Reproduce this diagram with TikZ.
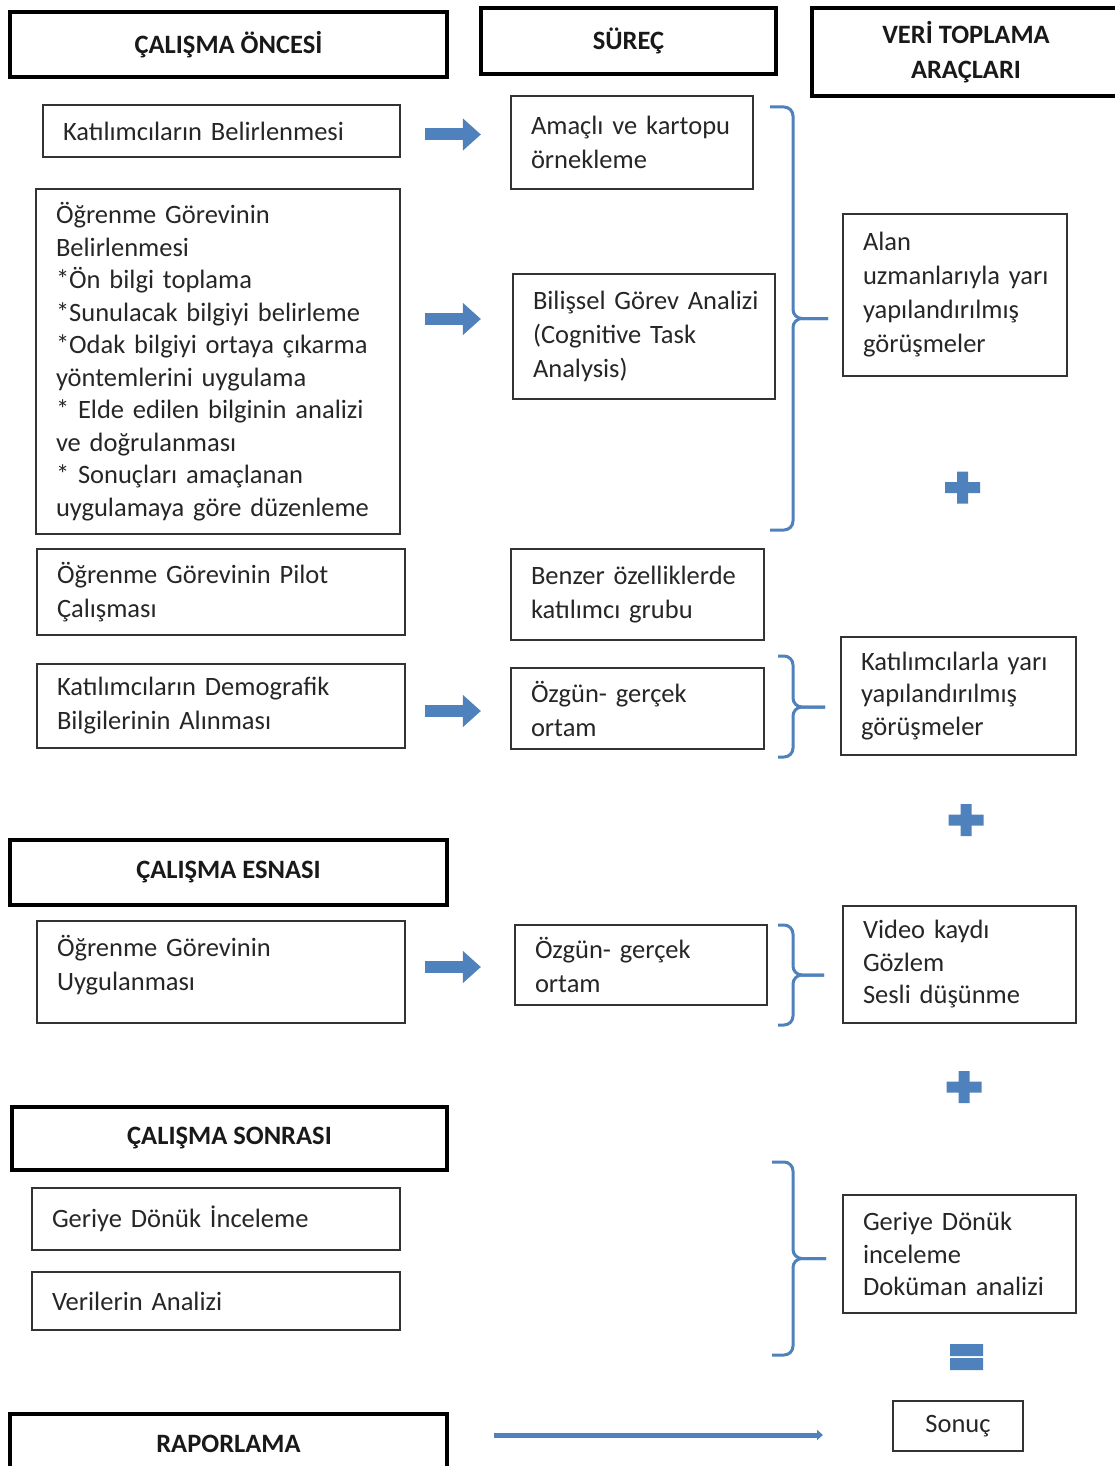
\documentclass[tikz,border=0pt]{standalone}
\usepackage{fontspec}
\setmainfont{Carlito}
\usepackage{xcolor}
\usetikzlibrary{arrows.meta,positioning}
\definecolor{ofisMavi}{HTML}{4F81BD}
\hyphenpenalty=10000

\begin{document}
\begin{tikzpicture}[x=1pt,y=-1pt,
  kutu/.style={draw=black!80,line width=1.8pt,align=left,inner xsep=20pt,
               font=\fontsize{26.5}{34}\selectfont,text=black!85},
  siki/.style={font=\fontsize{26.5}{32.5}\selectfont},
  baslik/.style={draw=black,line width=4pt,align=center,text=black!90,
                 font=\fontsize{26.5}{35}\selectfont\bfseries},
  blokok/.style={draw=ofisMavi,line width=12pt,-{Triangle[width=31pt,length=18pt]}},
  ok/.style={draw=ofisMavi,line width=5pt,-{Triangle[width=10pt,length=6pt]}},
  kavis/.style={draw=ofisMavi,line width=3pt,rounded corners=9pt},
  arti/.style={fill=ofisMavi}]
  \useasboundingbox (0,0) rectangle (1115,1466);

  % basliklar
  \node[baslik,minimum width=437pt,minimum height=65pt] (once) at (228.5,44.5) {ÇALIŞMA ÖNCESİ};
  \node[baslik,minimum width=295pt,minimum height=66pt] (surec) at (628.5,41) {SÜREÇ};
  \node[baslik,minimum width=308pt,minimum height=88pt] (arac) at (966,52) {VERİ TOPLAMA\\ARAÇLARI};
  \node[baslik,minimum width=437pt,minimum height=65pt] (esnasi) at (228.5,872.5) {ÇALIŞMA ESNASI};
  \node[baslik,minimum width=435pt,minimum height=63pt] (sonrasi) at (229.5,1138.5) {ÇALIŞMA SONRASI};
  \node[baslik,minimum width=437pt,minimum height=60pt] (rapor) at (228.5,1444) {RAPORLAMA};

  % calisma oncesi
  \node[kutu,text width=317pt,minimum height=52pt] (katil) at (221.5,131) {Katılımcıların Belirlenmesi};
  \node[kutu,siki,text width=324pt,minimum height=345pt] (gorev) at (218,361.5)
    {Öğrenme Görevinin\\Belirlenmesi\\{}*Ön bilgi toplama\\{}*Sunulacak bilgiyi belirleme\\{}*Odak bilgiyi ortaya çıkarma\\yöntemlerini uygulama\\{}* Elde edilen bilginin analizi\\ve doğrulanması\\{}* Sonuçları amaçlanan\\uygulamaya göre düzenleme};
  \node[kutu,text width=328pt,minimum height=86pt] (pilot) at (221,592) {Öğrenme Görevinin Pilot\\Çalışması};
  \node[kutu,text width=328pt,minimum height=84pt] (demog) at (221,706) {Katılımcıların Demografik\\Bilgilerinin Alınması};

  \node[kutu,text width=202pt,minimum height=93pt] (amacli) at (632,142.5) {Amaçlı ve kartopu\\örnekleme};
  \node[kutu,text width=222pt,minimum height=125pt] (bilis) at (644,336.5) {Bilişsel~Görev~Analizi\\(Cognitive Task\\Analysis)};
  \node[kutu,text width=213pt,minimum height=91pt] (benzer) at (637.5,594.5) {Benzer özelliklerde\\katılımcı grubu};
  \node[kutu,text width=213pt,minimum height=81pt] (ortam1) at (637.5,708.5) {Özgün- gerçek\\ortam};

  \node[kutu,text width=184pt,minimum height=162pt] (alan) at (955,295) {Alan\\uzmanlarıyla~yarı\\yapılandırılmış\\görüşmeler};
  \node[kutu,siki,text width=195pt,minimum height=118pt] (katyari) at (958.5,696) {Katılımcılarla~yarı\\yapılandırılmış\\görüşmeler};

  % calisma esnasi
  \node[kutu,text width=328pt,minimum height=102pt,text depth=52pt] (uygula) at (221,972) {Öğrenme Görevinin\\Uygulanması};
  \node[kutu,text width=212pt,minimum height=80pt] (ortam2) at (641,965) {Özgün- gerçek\\ortam};
  \node[kutu,siki,text width=193pt,minimum height=117pt] (video) at (959.5,964.5) {Video kaydı\\Gözlem\\Sesli düşünme};

  % calisma sonrasi
  \node[kutu,text width=328pt,minimum height=62pt] (geri) at (216,1219) {Geriye Dönük İnceleme};
  \node[kutu,text width=328pt,minimum height=58pt] (analiz) at (216,1301) {Verilerin Analizi};
  \node[kutu,siki,text width=193pt,minimum height=118pt] (dokuman) at (959.5,1254) {Geriye Dönük\\inceleme\\Doküman analizi};
  \node[kutu,align=center,inner xsep=10pt,minimum width=130pt,minimum height=50pt] (sonuc) at (958,1426) {Sonuç};

  % oklar
  \draw[blokok] ([shift={(24pt,-3.5pt)}]katil.east) -- ++(56,0);
  \draw[blokok] ([shift={(24pt,42.5pt)}]gorev.east) -- ++(56,0);
  \draw[blokok] ([shift={(19pt,-5pt)}]demog.east) -- ++(56,0);
  \draw[blokok] ([shift={(19pt,5pt)}]uygula.east) -- ++(56,0);
  \draw[ok] ([shift={(45pt,9pt)}]rapor.east) -- ++(329,0);

  % parantezler
  \draw[kavis] (770,107) -| (793,318.5) -- (828,318.5);
  \draw[kavis] (770,530) -| (793,318.5) -- (828,318.5);
  \draw[kavis] (778,656) -| (793,707) -- (825,707);
  \draw[kavis] (778,757) -| (793,707) -- (825,707);
  \draw[kavis] (778,925) -| (793,975) -- (824,975);
  \draw[kavis] (778,1025) -| (793,975) -- (824,975);
  \draw[kavis] (772,1162) -| (793,1258.5) -- (826,1258.5);
  \draw[kavis] (772,1355) -| (793,1258.5) -- (826,1258.5);

  % arti ve esittir
  \fill[arti,shift={(962.5,487.5)}] (-17.5,-5.5) rectangle (17.5,5.5) (-5.5,-16) rectangle (5.5,16);
  \fill[arti,shift={(966,820)}] (-17.5,-5.5) rectangle (17.5,5.5) (-5.5,-16) rectangle (5.5,16);
  \fill[arti,shift={(964,1087)}] (-17.5,-5.5) rectangle (17.5,5.5) (-5.5,-16) rectangle (5.5,16);
  \fill[arti] (950,1344) rectangle (983,1356) (950,1358) rectangle (983,1370);
\end{tikzpicture}
\end{document}
